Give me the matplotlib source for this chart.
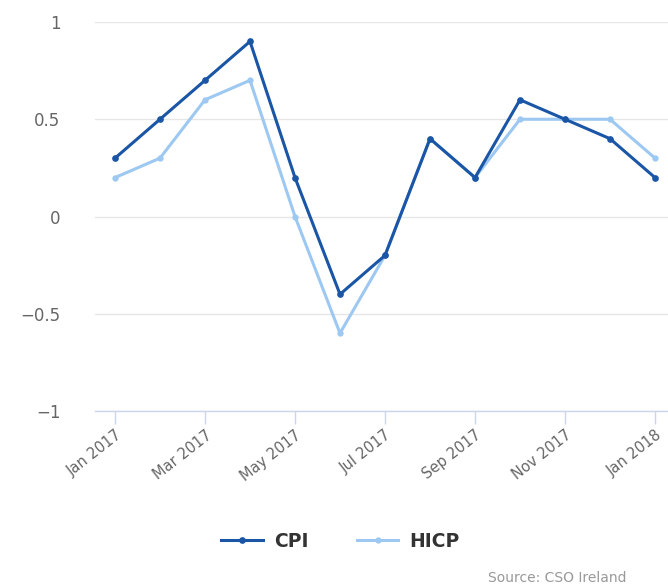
import matplotlib
matplotlib.use("Agg")
import matplotlib.pyplot as plt
from matplotlib.lines import Line2D

months = ["Jan 2017", "Feb 2017", "Mar 2017", "Apr 2017", "May 2017", "Jun 2017",
          "Jul 2017", "Aug 2017", "Sep 2017", "Oct 2017", "Nov 2017", "Dec 2017",
          "Jan 2018"]
cpi = [0.3, 0.5, 0.7, 0.9, 0.2, -0.4, -0.2, 0.4, 0.2, 0.6, 0.5, 0.4, 0.2]
hicp = [0.2, 0.3, 0.6, 0.7, 0.0, -0.6, -0.2, 0.4, 0.2, 0.5, 0.5, 0.5, 0.3]
yticks = [-1, -0.5, 0, 0.5, 1]
ytick_labels = ["−1", "−0.5", "0", "0.5", "1"]

CPI_COLOR = "#1a55a6"
HICP_COLOR = "#9cc8f2"

fig = plt.figure(figsize=(6.68, 5.84), dpi=100)
ax = fig.add_axes([95 / 668, 1 - 411 / 584, 1 - 95 / 668, (411 - 22) / 584])

x = list(range(len(months)))
ax.plot(x, hicp, color=HICP_COLOR, lw=2.2, marker="o", ms=3.5, zorder=2, label="HICP")
ax.plot(x, cpi, color=CPI_COLOR, lw=2.2, marker="o", ms=3.8, zorder=3, label="CPI")

ax.set_ylim(-1, 1)
ax.set_xlim(-20 / 45, (668 - 115) / 45)
ax.set_yticks(yticks)
ax.set_yticklabels(ytick_labels, fontsize=12, color="#666666")
ax.yaxis.grid(True, color="#e6e6e6", lw=1)
ax.set_axisbelow(True)
ax.tick_params(axis="y", length=0, pad=25)
for lbl in ax.get_yticklabels():
    lbl.set_horizontalalignment("right")

tick_pos = x[::2]
ax.set_xticks(tick_pos)
ax.set_xticklabels([months[i] for i in tick_pos], rotation=38, ha="right",
                   rotation_mode="anchor", fontsize=10.5, color="#666666")
ax.tick_params(axis="x", length=9, color="#ccd6eb", width=1, pad=3)

for s in ["top", "right", "left"]:
    ax.spines[s].set_visible(False)
ax.spines["bottom"].set_color("#ccd6eb")
ax.spines["bottom"].set_linewidth(1)

handles = [Line2D([0], [0], color=CPI_COLOR, lw=2.2, marker="o", ms=3.8),
           Line2D([0], [0], color=HICP_COLOR, lw=2.2, marker="o", ms=3.5)]
leg = fig.legend(handles, ["CPI", "HICP"], loc="center", bbox_to_anchor=(0.51, 0.073),
                 ncol=2, frameon=False, handlelength=2.2, columnspacing=2.6,
                 handletextpad=0.6, prop={"weight": "bold", "size": 13.5})
for t in leg.get_texts():
    t.set_color("#333333")

fig.text(488 / 668, 1 - 578 / 584, "Source: CSO Ireland", fontsize=10, color="#999999",
         ha="left", va="center")

fig.savefig("out.png", dpi=100)
